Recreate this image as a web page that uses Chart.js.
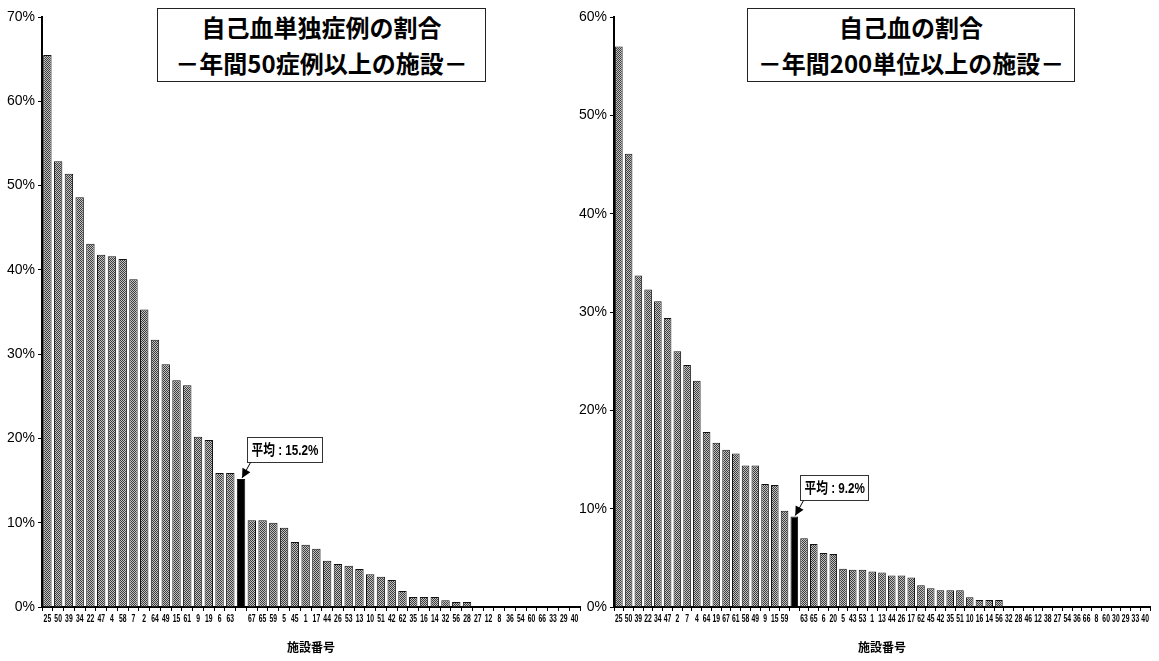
<!DOCTYPE html>
<html lang="ja">
<head>
<meta charset="utf-8">
<title>自己血の割合</title>
<script src="https://cdn.jsdelivr.net/npm/chart.js@4.4.1/dist/chart.umd.min.js"></script>
<style>
  html, body { margin: 0; padding: 0; background: #fff; }
  #wrap { position: relative; width: 1159px; height: 661px; overflow: hidden; background: #fff; }
  canvas { position: absolute; top: 0; }
  #cLeft { left: 0; }
  #cRight { left: 578px; }
  .ttl {
    position: absolute; top: 8px; height: 74px; box-sizing: border-box;
    border: 1px solid #222; background: #fff;
    font-family: "Noto Sans CJK JP", sans-serif; font-weight: 700; font-size: 24px;
    line-height: 36px; text-align: center; color: #000; z-index: 2;
  }
  #tLeft { left: 157px; width: 329px; }
  #tRight { left: 747px; width: 328px; }
</style>
</head>
<body>
<div id="wrap">
  <canvas id="cLeft" width="585" height="661"></canvas>
  <canvas id="cRight" width="581" height="661"></canvas>
  <div class="ttl" id="tLeft">自己血単独症例の割合<br>－年間50症例以上の施設－</div>
  <div class="ttl" id="tRight">自己血の割合<br>－年間200単位以上の施設－</div>
</div>
<script>
// 自己血単独症例の割合（年間50症例以上の施設）
const leftCats = ['25','50','39','34','22','47','4','58','7','2','64','49','15','61','9','19','6','63','',
  '67','65','59','5','45','1','17','44','26','53','13','10','51','42','62','35','16','14','32','56','28',
  '27','12','8','36','54','60','66','33','29','40'];
const leftMean = 15.2;
const leftAbove = [65.5,52.9,51.4,48.6,43.1,41.8,41.6,41.3,38.9,35.3,31.7,28.8,26.9,26.3,20.2,19.8,15.9,15.9];
const leftBelow = [10.3,10.3,10.0,9.4,7.7,7.4,6.9,5.5,5.1,4.9,4.5,3.9,3.6,3.2,1.9,1.2,1.2,1.2,0.8,0.6,0.6,
  0,0,0,0,0,0,0,0,0,0];
const leftTicks = [0,10,20,30,40,50,60,70];

// 自己血の割合（年間200単位以上の施設）
const rightCats = ['25','50','39','22','34','47','2','7','4','64','19','67','61','58','49','9','15','59','',
  '63','65','6','20','5','43','53','1','13','44','26','17','62','45','42','35','51','10','16','14','56',
  '32','28','46','12','38','27','54','36','66','8','60','30','29','33','40'];
const rightMean = 9.2;
const rightAbove = [57.0,46.1,33.7,32.3,31.1,29.4,26.0,24.6,23.0,17.8,16.7,16.0,15.6,14.4,14.4,12.5,12.4,9.8];
const rightBelow = [7.0,6.4,5.5,5.4,3.9,3.8,3.8,3.6,3.5,3.2,3.2,3.0,2.2,1.9,1.7,1.7,1.7,1.0,0.7,0.7,0.7,
  0,0,0,0,0,0,0,0,0,0,0,0,0,0];
const rightTicks = [0,10,20,30,40,50,60];

const axisTitle = '施設番号';
const meanLabel = '平均';

const SANS = '"Liberation Sans", "DejaVu Sans", "Noto Sans CJK JP", sans-serif';

// halftone-like fill for the ordinary bars
function makePattern() {
  const c = document.createElement('canvas');
  c.width = 2; c.height = 2;
  const g = c.getContext('2d');
  g.fillStyle = '#c2c2c2'; g.fillRect(0, 0, 2, 2);
  g.fillStyle = '#3c3c3c'; g.fillRect(0, 0, 1, 1); g.fillRect(1, 1, 1, 1);
  return g.createPattern(c, 'repeat');
}

// condensed category labels under the x axis, placed at the scale's tick positions
const narrowLabels = {
  id: 'narrowLabels',
  afterDraw(chart) {
    const sx = chart.scales.x;
    const ctx = chart.ctx;
    const y = chart.chartArea.bottom + 12;
    ctx.save();
    ctx.font = 'bold 10px ' + SANS;
    ctx.fillStyle = '#000';
    ctx.textAlign = 'center';
    ctx.textBaseline = 'middle';
    chart.data.labels.forEach((lab, i) => {
      if (!lab) return;
      const x = sx.getPixelForTick(i);
      ctx.save();
      ctx.translate(x, y);
      ctx.scale(0.68, 1);
      ctx.fillText(lab, 0, 0);
      ctx.restore();
    });
    ctx.restore();
  }
};

// callout box with arrow pointing at the average bar
const meanCallout = {
  id: 'meanCallout',
  afterDatasetsDraw(chart, args, opts) {
    const el = chart.getDatasetMeta(0).data[opts.index];
    if (!el) return;
    const ctx = chart.ctx;
    const bx = el.x, by = el.y;
    const text = meanLabel + ' : ' + opts.value.toFixed(1) + '%';
    ctx.save();
    ctx.font = 'bold 15px ' + SANS;
    const sq = 0.78;
    const tw = ctx.measureText(text).width * sq;
    const w = Math.round(tw + 8), h = 25;
    const left = Math.round(bx + 6) + 0.5;
    const bottom = Math.round(by - 17) + 0.5;
    const top = bottom - h;
    ctx.fillStyle = '#fff';
    ctx.fillRect(left, top, w, h);
    ctx.strokeStyle = '#333';
    ctx.lineWidth = 1;
    ctx.strokeRect(left, top, w, h);
    ctx.fillStyle = '#000';
    ctx.textBaseline = 'middle';
    ctx.textAlign = 'left';
    ctx.save();
    ctx.translate(left + 4, top + h / 2 + 1);
    ctx.scale(sq, 1);
    ctx.fillText(text, 0, 0);
    ctx.restore();
    // arrow
    const sx = left + 3, sy = bottom;
    const ex = bx + 1, ey = by - 1;
    ctx.beginPath();
    ctx.moveTo(sx, sy);
    ctx.lineTo(ex, ey);
    ctx.strokeStyle = '#000';
    ctx.stroke();
    const ang = Math.atan2(ey - sy, ex - sx);
    const L = 9, W = 4.5;
    ctx.beginPath();
    ctx.moveTo(ex, ey);
    ctx.lineTo(ex - L * Math.cos(ang) + W * Math.sin(ang), ey - L * Math.sin(ang) - W * Math.cos(ang));
    ctx.lineTo(ex - L * Math.cos(ang) - W * Math.sin(ang), ey - L * Math.sin(ang) + W * Math.cos(ang));
    ctx.closePath();
    ctx.fillStyle = '#000';
    ctx.fill();
    ctx.restore();
  }
};

function buildChart(canvasId, cats, above, mean, below, ticks, yWidth, padRight) {
  const values = above.concat([mean], below);
  const meanIdx = above.length;
  const pattern = makePattern();
  const yMax = ticks[ticks.length - 1];
  return new Chart(document.getElementById(canvasId), {
    type: 'bar',
    data: {
      labels: cats,
      datasets: [{
        data: values,
        backgroundColor: (c) => c.dataIndex === meanIdx ? '#000' : pattern,
        borderColor: '#111',
        borderWidth: 1,
        barPercentage: 0.78,
        categoryPercentage: 1.0
      }]
    },
    options: {
      responsive: false,
      animation: false,
      events: [],
      layout: { padding: { top: 17, right: padRight, bottom: 0, left: 0 } },
      plugins: {
        legend: { display: false },
        tooltip: { enabled: false },
        title: { display: false },
        meanCallout: { index: meanIdx, value: mean }
      },
      scales: {
        x: {
          type: 'category',
          offset: true,
          grid: { offset: true, drawOnChartArea: false, tickLength: 4, color: '#000', lineWidth: 1 },
          border: { color: '#000', width: 2 },
          ticks: { display: false, autoSkip: false },
          title: {
            display: true, text: axisTitle, color: '#000',
            font: { family: '"Noto Sans CJK JP", sans-serif', size: 12, weight: 'bold' },
            padding: { top: 0, bottom: 6 }
          },
          afterFit(s) { s.height = 54; }
        },
        y: {
          min: 0, max: yMax,
          afterBuildTicks(s) { s.ticks = ticks.map(v => ({ value: v })); },
          grid: { drawOnChartArea: false, tickLength: 4, color: '#000', lineWidth: 1 },
          border: { color: '#000', width: 2 },
          ticks: {
            color: '#000', padding: 3,
            font: { family: SANS, size: 14 },
            callback: (v) => v + '%'
          },
          afterFit(s) { s.width = yWidth; }
        }
      }
    },
    plugins: [meanCallout, narrowLabels]
  });
}

buildChart('cLeft', leftCats, leftAbove, leftMean, leftBelow, leftTicks, 42, 5);
buildChart('cRight', rightCats, rightAbove, rightMean, rightBelow, rightTicks, 36, 9);
</script>
</body>
</html>
